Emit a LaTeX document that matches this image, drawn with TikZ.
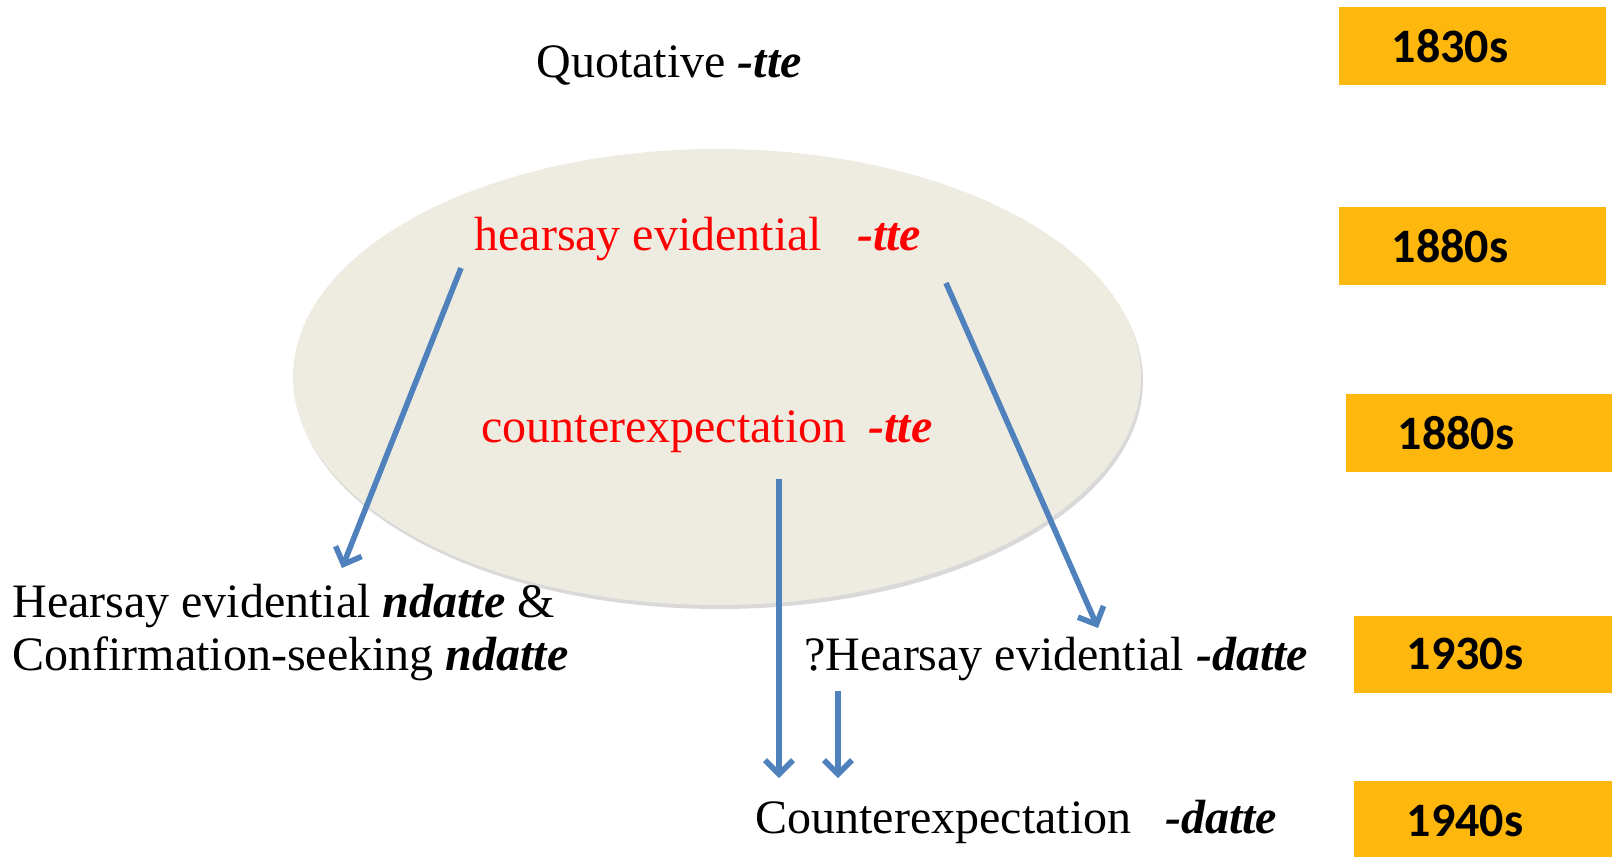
\documentclass[tikz,border=0pt]{standalone}
\usepackage{fontspec}
\setmainfont{Liberation Serif}
\newfontfamily\yearfont{Carlito}
\usepackage{xcolor}
\usepackage{tikz}
\usetikzlibrary{shapes.geometric, arrows.meta, positioning, shadows}
\definecolor{eraGold}{RGB}{254,183,12}
\definecolor{pathBlue}{RGB}{79,129,189}
\definecolor{cloudTan}{RGB}{238,235,225}
\definecolor{formRed}{RGB}{255,0,0}

\newcommand{\form}[1]{\textbf{\textit{#1}}}

\begin{document}
\begin{tikzpicture}[
    x=0.5pt, y=-0.5pt,
    stagetxt/.style={inner sep=0pt, font=\fontsize{24}{26.5}\selectfont, text=black},
    redtxt/.style={stagetxt, text=formRed},
    yearbox/.style={fill=eraGold, rectangle, inner sep=0pt, minimum width=133.5pt, minimum height=39pt},
    yeartxt/.style={inner sep=0pt, font=\yearfont\bfseries\fontsize{24}{28}\selectfont, text=black},
    shift arrow/.style={draw=pathBlue, line width=2.8pt, -{Straight Barb[length=7pt, width=14pt, line width=2.8pt]}}
]
\useasboundingbox (0,0) rectangle (1612,857);

% Ellipse
\node (cloud) [ellipse, fill=cloudTan, inner sep=0pt, minimum width=424pt, minimum height=228pt,
    drop shadow={shadow xshift=1pt, shadow yshift=-2pt, opacity=0.25, fill=black!60}] at (717,377) {};

% Stages
\node (quot) [stagetxt, anchor=base west] at (536,77) {Quotative \form{-tte}};
\node (hear) [redtxt, anchor=base west] at (474,250) {hearsay evidential\hspace{17.5pt}\form{-tte}};
\node (cexp) [redtxt, anchor=base west] at (481,442) {counterexpectation\hspace{11pt}\form{-tte}};
\node (ndatte) [stagetxt, anchor=north west, align=left] at (12,584) {Hearsay evidential \form{ndatte} \&\\Confirmation-seeking \form{ndatte}};
\node (qhear) [stagetxt, anchor=base west] at (804,670) {?Hearsay evidential \form{-datte}};
\node (cdatte) [stagetxt, anchor=base west] at (755,833) {Counterexpectation\hspace{17pt}\form{-datte}};

% Year boxes
\node (y1830) [yearbox] at (1472.5,46) {};
\node (y1880a) [yearbox] at (1472.5,246) {};
\node (y1880b) [yearbox, minimum width=133pt] at (1479,433) {};
\node (y1930) [yearbox, minimum width=129pt, minimum height=38.5pt] at (1483,654.5) {};
\node (y1940) [yearbox, minimum width=129pt, minimum height=38pt] at (1483,819) {};
\node (t1830) [yeartxt] at (1450,46) {1830s};
\node (t1880a) [yeartxt] at (1450,246) {1880s};
\node (t1880b) [yeartxt] at (1456,433) {1880s};
\node (t1930) [yeartxt] at (1465,654) {1930s};
\node (t1940) [yeartxt] at (1465,821) {1940s};

% Arrows
\coordinate (hearL) at (461,268);
\coordinate (ndatteTop) at (342,568);
\coordinate (hearR) at (946,283);
\coordinate (qhearTop) at (1098,628);
\coordinate (cexpBot) at (779,479);
\coordinate (cdatteTopL) at (779,778);
\coordinate (qhearBot) at (838,691);
\coordinate (cdatteTopR) at (838,778);
\draw[shift arrow] (hearL) -- (ndatteTop);
\draw[shift arrow] (hearR) -- (qhearTop);
\draw[shift arrow] (cexpBot) -- (cdatteTopL);
\draw[shift arrow] (qhearBot) -- (cdatteTopR);

\end{tikzpicture}
\end{document}
